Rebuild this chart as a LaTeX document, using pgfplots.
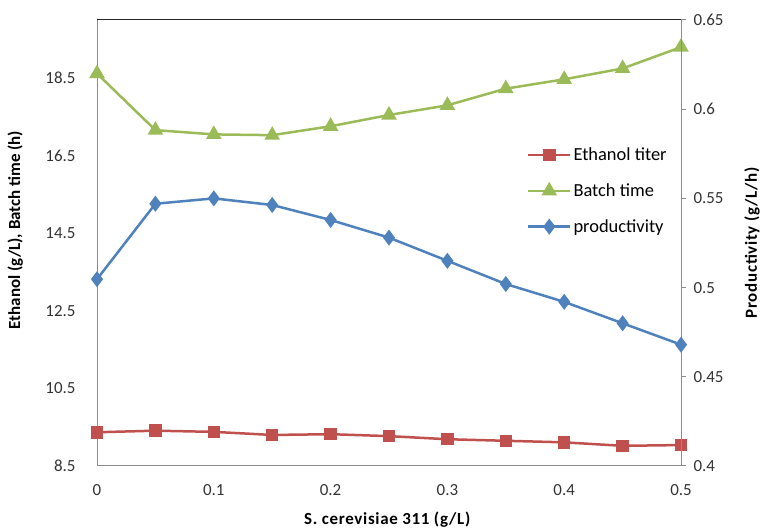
\documentclass[border=0pt]{standalone}
\usepackage{pgfplots}
\pgfplotsset{compat=1.18}
\usepackage{fontspec}
\setmainfont{Carlito}
\newfontfamily\labfont[LetterSpace=4]{Carlito}
\definecolor{exred}{HTML}{C0504D}
\definecolor{exgreen}{HTML}{9BBB59}
\definecolor{exblue}{HTML}{4F81BD}
\definecolor{axgray}{HTML}{8C8C8C}
\begin{document}
\begin{tikzpicture}[x=1bp,y=1bp]
\useasboundingbox (0,0) rectangle (763,530);
\pgfplotsset{
  every axis/.append style={
    scale only axis, width=584bp, height=446bp,
    at={(97bp,64bp)}, anchor=south west,
    xmin=0, xmax=0.5,
    /pgf/number format/assume math mode=true,
    tick label style={font=\fontsize{17}{19}\selectfont, text=black!80},
  }
}
\begin{axis}[
  ymin=8.5, ymax=20,
  ytick={8.5,10.5,12.5,14.5,16.5,18.5},
  yticklabels={8.5,10.5,12.5,14.5,16.5,18.5},
  xtick={0,0.1,0.2,0.3,0.4,0.5},
  xticklabels={0,0.1,0.2,0.3,0.4,0.5},
  axis y line*=left, axis x line*=bottom,
  axis line style={draw=axgray, line width=1pt, -},
  major tick length=0pt,
  xticklabel style={yshift=-15bp},
  yticklabel style={xshift=-18bp},
  xlabel={S. cerevisiae 311 (g/L)},
  ylabel={Ethanol (g/L), Batch time (h)},
  every axis x label/.style={at={(axis description cs:0.497,-0.121)}, anchor=center,
    font=\labfont\bfseries\fontsize{17}{19}\selectfont},
  every axis y label/.style={at={(axis description cs:-0.140,0.529)}, anchor=center, rotate=90,
    font=\bfseries\fontsize{17}{19}\selectfont},
  clip=false,
]
\addplot[color=exred, line width=2.5bp, mark=square*, mark size=5bp, mark options={solid}] coordinates {
(0,9.37) (0.05,9.41) (0.1,9.38) (0.15,9.30) (0.2,9.32) (0.25,9.27) (0.3,9.19) (0.35,9.15) (0.4,9.11) (0.45,9.02) (0.5,9.04)};
\addplot[color=exgreen, line width=2.5bp, mark=triangle*, mark size=6.5bp, mark options={solid}] coordinates {
(0,18.62) (0.05,17.16) (0.1,17.05) (0.15,17.03) (0.2,17.26) (0.25,17.55) (0.3,17.80) (0.35,18.23) (0.4,18.47) (0.45,18.75) (0.5,19.30)};
\end{axis}
\begin{axis}[
  ymin=0.4, ymax=0.65,
  ytick={0.4,0.45,0.5,0.55,0.6,0.65},
  yticklabels={0.4,0.45,0.5,0.55,0.6,0.65},
  axis y line*=right, axis x line=none,
  axis line style={draw=axgray, line width=1pt, -},
  ytick style={draw=axgray, line width=1pt},
  major tick length=5bp,
  ytick align=outside,
  yticklabel style={xshift=4bp},
  ylabel={Productivity (g/L/h)},
  every axis y label/.style={at={(axis description cs:1.1216,0.5)}, anchor=center, rotate=90,
    font=\labfont\bfseries\fontsize{17}{19}\selectfont},
  clip=false,
  legend style={draw=none, fill=none, at={(0.736,0.718)}, anchor=north west,
    font=\fontsize{18.5}{20}\selectfont, row sep=17.5bp, inner sep=0pt,
    cells={anchor=west}},
  legend image code/.code={\draw[mark repeat=2,mark phase=2] plot coordinates {(0bp,0bp)(21bp,0bp)(42bp,0bp)};},
]
\addlegendimage{color=exred, line width=2.5bp, mark=square*, mark size=5bp}
\addlegendentry{Ethanol titer}
\addlegendimage{color=exgreen, line width=2.5bp, mark=triangle*, mark size=6.5bp}
\addlegendentry{Batch time}
\addplot[color=exblue, line width=2.5bp, mark=diamond*, mark size=6bp, mark options={solid}] coordinates {
(0,0.5047) (0.05,0.547) (0.1,0.550) (0.15,0.5463) (0.2,0.5379) (0.25,0.528) (0.3,0.515) (0.35,0.502) (0.4,0.492) (0.45,0.480) (0.5,0.468)};
\addlegendentry{productivity}
\draw[black!85, line width=1pt] (rel axis cs:0,1) -- (rel axis cs:1,1);
\end{axis}
\end{tikzpicture}
\end{document}
